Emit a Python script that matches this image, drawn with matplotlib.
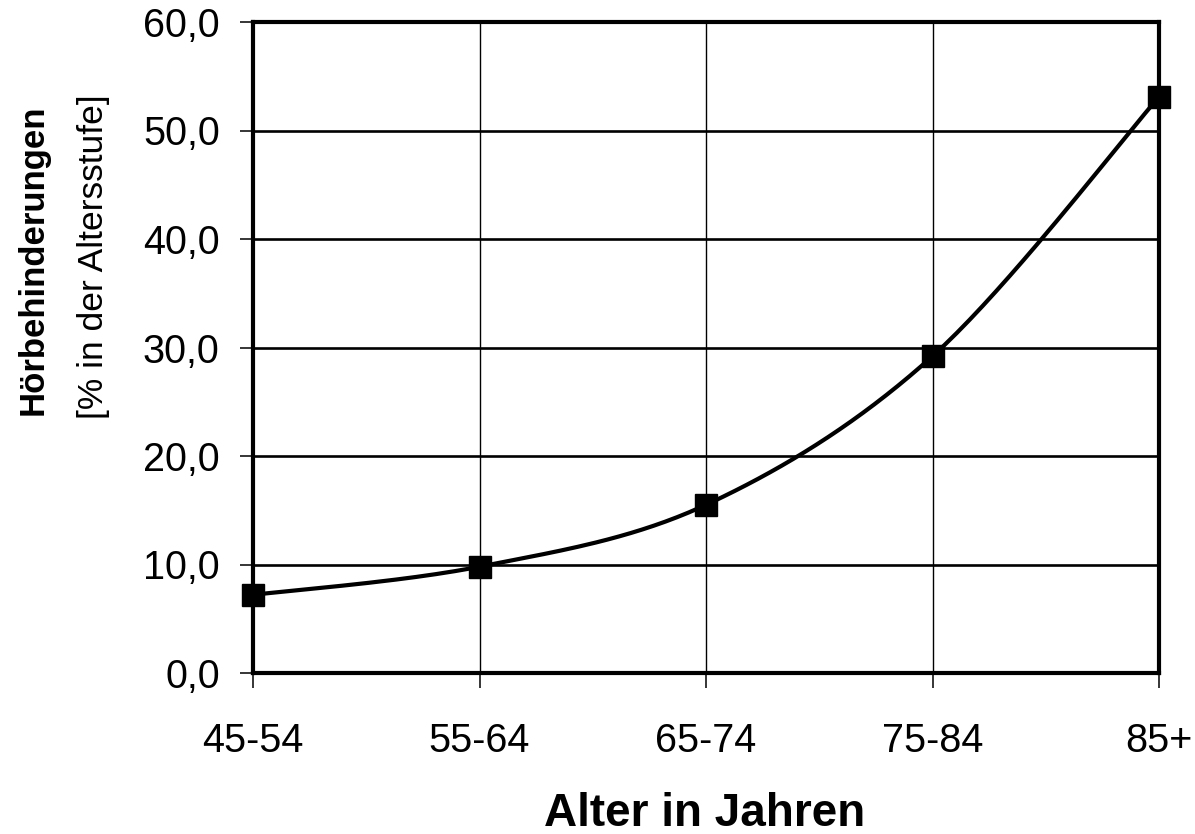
import numpy as np
import matplotlib
matplotlib.use("Agg")
import matplotlib.pyplot as plt

plt.rcParams["font.family"] = ["Liberation Sans", "DejaVu Sans"]

# Data: share of hearing impairments per age group
age_groups = ["45-54", "55-64", "65-74", "75-84", "85+"]
percent = [7.2, 9.8, 15.5, 29.2, 53.1]
y_ticks = [0, 10, 20, 30, 40, 50, 60]
y_tick_labels = ["0,0", "10,0", "20,0", "30,0", "40,0", "50,0", "60,0"]


def smooth_curve(xs, ys, steps=40):
    """Smoothed line through the points (cubic Bezier, Catmull-Rom style)."""
    xs = np.asarray(xs, float)
    ys = np.asarray(ys, float)
    n = len(xs)
    out_x, out_y = [], []
    t = np.linspace(0, 1, steps)
    for i in range(n - 1):
        p0 = np.array([xs[max(i - 1, 0)], ys[max(i - 1, 0)]])
        p1 = np.array([xs[i], ys[i]])
        p2 = np.array([xs[i + 1], ys[i + 1]])
        p3 = np.array([xs[min(i + 2, n - 1)], ys[min(i + 2, n - 1)]])
        c1 = p1 + (p2 - p0) / 6.0
        c2 = p2 - (p3 - p1) / 6.0
        b = (((1 - t) ** 3)[:, None] * p1 + (3 * (1 - t) ** 2 * t)[:, None] * c1
             + (3 * (1 - t) * t ** 2)[:, None] * c2 + (t ** 3)[:, None] * p2)
        out_x.extend(b[:, 0])
        out_y.extend(b[:, 1])
    return np.array(out_x), np.array(out_y)


W, H = 1195, 834
fig = plt.figure(figsize=(W / 100, H / 100), dpi=100)
ax = fig.add_axes([253 / W, 1 - 673 / H, (1159 - 253) / W, (673 - 22) / H])

x = np.arange(len(age_groups))
sx, sy = smooth_curve(x, percent)
ax.plot(sx, sy, color="black", lw=3.0, solid_joinstyle="round", zorder=3,
        clip_on=False)
ax.plot(x, percent, linestyle="none", marker="s", markersize=16.5,
        color="black", zorder=4, clip_on=False)

ax.set_xlim(0, len(age_groups) - 1)
ax.set_ylim(0, 60)
ax.set_xticks(x)
ax.set_xticklabels(age_groups)
ax.set_yticks(y_ticks)
ax.set_yticklabels(y_tick_labels)

# Grid: thick horizontal lines, thin vertical lines
for yv in y_ticks[1:-1]:
    ax.axhline(yv, color="black", lw=1.9, zorder=1)
for xv in x[1:-1]:
    ax.axvline(xv, color="black", lw=1.0, zorder=1)

for side in ["left", "right", "top", "bottom"]:
    ax.spines[side].set_linewidth(3.0)
    ax.spines[side].set_zorder(5)

ax.tick_params(axis="y", direction="out", length=9.5, width=1.1,
               labelsize=28.5, pad=14.5)
ax.tick_params(axis="x", direction="out", length=11, width=1.1,
               labelsize=28.5, pad=24)

fig.text(705 / W, 1 - 826 / H, "Alter in Jahren", ha="center", va="baseline",
         fontsize=33, fontweight="bold")
fig.text(33 / W, 1 - 260 / H, "Hörbehinderungen", rotation=90, ha="center",
         va="center", fontsize=25, fontweight="bold")
fig.text(94 / W, 1 - 257 / H, "[% in der Altersstufe]", rotation=90,
         ha="center", va="center", fontsize=25.5)

fig.savefig("out.png", dpi=100, facecolor="white")
